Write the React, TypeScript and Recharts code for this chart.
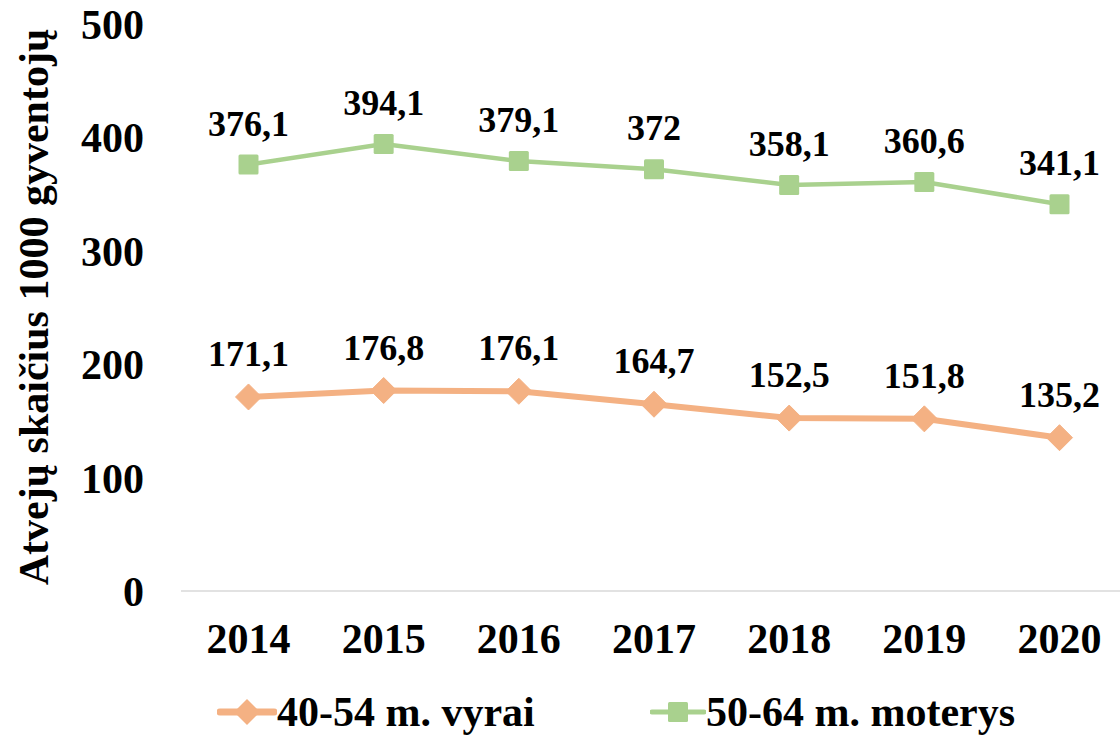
import { LabelList, Legend, Line, LineChart, XAxis, YAxis } from 'recharts';

const years = ['2014', '2015', '2016', '2017', '2018', '2019', '2020'];
const men4054 = [171.1, 176.8, 176.1, 164.7, 152.5, 151.8, 135.2];
const women5064 = [376.1, 394.1, 379.1, 372, 358.1, 360.6, 341.1];
const yTicks = [0, 100, 200, 300, 400, 500];

const FONT = '"Liberation Serif", "Times New Roman", serif';
const ORANGE = '#F4B183';
const GREEN = '#A9D18E';

const data = years.map((year, i) => ({
  year,
  men: men4054[i],
  women: women5064[i],
}));

function formatValue(v: unknown): string {
  return String(v).replace('.', ',');
}

function DiamondDot(props: any) {
  const { cx, cy } = props;
  if (cx == null || cy == null) return null;
  const r = 13;
  return (
    <polygon
      points={`${cx},${cy - r} ${cx + r},${cy} ${cx},${cy + r} ${cx - r},${cy}`}
      fill={ORANGE}
      stroke={ORANGE}
      strokeLinejoin="round"
      strokeWidth={1}
    />
  );
}

function SquareDot(props: any) {
  const { cx, cy } = props;
  if (cx == null || cy == null) return null;
  return <rect x={cx - 10} y={cy - 10} width={20} height={20} rx={1.5} fill={GREEN} />;
}

function LegendContent() {
  const text = {
    fontFamily: FONT,
    fontWeight: 700,
    fontSize: 42,
    color: '#000',
    lineHeight: '62px',
  };
  return (
    <div style={{ position: 'relative', width: 1120, height: 62 }}>
      <div style={{ position: 'absolute', left: 217, top: 0, display: 'flex', alignItems: 'center' }}>
        <svg width={60} height={62}>
          <line x1={3} y1={31} x2={57} y2={31} stroke={ORANGE} strokeWidth={7} strokeLinecap="round" />
          <polygon points="30,18 43,31 30,44 17,31" fill={ORANGE} />
        </svg>
        <span style={text}>40-54 m. vyrai</span>
      </div>
      <div style={{ position: 'absolute', left: 650, top: 0, display: 'flex', alignItems: 'center' }}>
        <svg width={56} height={62}>
          <line x1={2} y1={31} x2={54} y2={31} stroke={GREEN} strokeWidth={5} strokeLinecap="round" />
          <rect x={18} y={21} width={20} height={20} rx={1.5} fill={GREEN} />
        </svg>
        <span style={text}>50-64 m. moterys</span>
      </div>
    </div>
  );
}

export default function App() {
  return (
    <div style={{ position: 'absolute', left: 0, top: 0, width: 1120, height: 743, background: '#fff' }}>
      <LineChart
        width={1120}
        height={743}
        data={data}
        margin={{ top: 24, right: 0, left: 0, bottom: 0 }}
      >
        <XAxis
          dataKey="year"
          padding={{ left: 67.5, right: 60.5 }}
          axisLine={{ stroke: '#d9d9d9', strokeWidth: 1.5 }}
          tickLine={false}
          tickSize={0}
          tickMargin={32}
          height={90}
          tick={{ fill: '#000', fontSize: 42, fontWeight: 700, fontFamily: FONT }}
        />
        <YAxis
          domain={[0, 500]}
          ticks={yTicks}
          width={181}
          axisLine={false}
          tickLine={false}
          tickSize={0}
          tickMargin={37}
          tick={{ fill: '#000', fontSize: 42, fontWeight: 700, fontFamily: FONT }}
          label={{
            content: () => (
              <text
                x={48}
                y={307}
                transform="rotate(-90 48 307)"
                textAnchor="middle"
                fontFamily={FONT}
                fontWeight={700}
                fontSize={42}
                fill="#000"
              >
                Atvejų skaičius 1000 gyventojų
              </text>
            ),
          }}
        />
        <Legend verticalAlign="bottom" align="left" height={62} content={() => <LegendContent />} />
        <Line
          type="linear"
          dataKey="men"
          name="40-54 m. vyrai"
          stroke={ORANGE}
          strokeWidth={6}
          dot={<DiamondDot />}
          activeDot={false}
          isAnimationActive={false}
        >
          <LabelList
            dataKey="men"
            position="top"
            offset={31}
            formatter={formatValue}
            style={{ fill: '#000', fontSize: 36, fontWeight: 700, fontFamily: FONT }}
          />
        </Line>
        <Line
          type="linear"
          dataKey="women"
          name="50-64 m. moterys"
          stroke={GREEN}
          strokeWidth={4.5}
          dot={<SquareDot />}
          activeDot={false}
          isAnimationActive={false}
        >
          <LabelList
            dataKey="women"
            position="top"
            offset={29}
            formatter={formatValue}
            style={{ fill: '#000', fontSize: 36, fontWeight: 700, fontFamily: FONT }}
          />
        </Line>
      </LineChart>
    </div>
  );
}
